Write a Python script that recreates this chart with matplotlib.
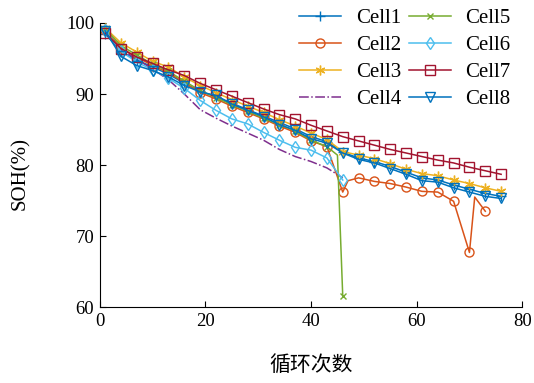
import numpy as np
import matplotlib
matplotlib.use("Agg")
import matplotlib.pyplot as plt

plt.rcParams['font.family'] = ['Liberation Serif', 'DejaVu Serif']

# --- data (cycle number vs SOH %) ---
cyc = [1, 4, 7, 10, 13, 16, 19, 22, 25, 28, 31, 34, 37, 40, 43, 46,
       49, 52, 55, 58, 61, 64, 67, 70, 73, 76]

cell1 = [98.5, 96.0, 94.8, 93.8, 92.8, 91.5, 90.4, 89.6, 88.7, 87.8, 86.9, 86.0, 85.1,
         84.0, 83.3, 81.8, 81.0, 80.5, 79.8, 79.0, 78.2, 77.9, 77.2, 76.6, 76.0, 75.6]
cell3 = [99.3, 97.2, 95.9, 94.6, 93.8, 92.4, 91.2, 90.2, 89.2, 88.3, 87.4, 86.4, 85.5,
         84.5, 83.6, 81.9, 81.4, 80.9, 80.2, 79.4, 78.8, 78.5, 77.9, 77.4, 76.8, 76.3]
cell7 = [98.6, 96.4, 95.2, 94.3, 93.4, 92.6, 91.5, 90.6, 89.7, 88.8, 87.9, 87.1, 86.5,
         85.6, 84.8, 84.0, 83.4, 82.8, 82.2, 81.7, 81.2, 80.7, 80.3, 79.7, 79.2, 78.7]
cell8 = [98.9, 95.3, 94.0, 93.3, 92.4, 91.2, 90.3, 89.8, 88.6, 87.7, 86.8, 85.7, 84.9,
         83.7, 83.1, 81.7, 80.8, 80.3, 79.5, 78.7, 77.8, 77.6, 76.8, 76.2, 75.6, 75.3]

cyc2 = [1, 4, 7, 10, 13, 16, 19, 22, 25, 28, 31, 34, 37, 40, 43, 46, 47,
        49, 52, 55, 58, 61, 64, 67, 70, 71, 73]
cell2 = [99.0, 96.5, 95.2, 94.0, 93.0, 91.6, 90.2, 89.3, 88.3, 87.4, 86.5, 85.5, 84.6,
         83.4, 82.6, 76.2, 77.8, 78.2, 77.7, 77.4, 76.9, 76.3, 76.2, 74.9, 67.7, 75.5, 73.5]
cell2_marks = [0, 1, 2, 3, 4, 5, 6, 7, 8, 9, 10, 11, 12, 13, 14, 15,
               17, 18, 19, 20, 21, 22, 23, 24, 26]

cyc4 = [1, 4, 7, 10, 13, 16, 19, 22, 25, 28, 31, 34, 37, 40, 43, 46]
cell4 = [98.8, 96.3, 94.9, 93.5, 92.0, 90.0, 87.8, 86.6, 85.5, 84.5, 83.5, 82.2, 81.2,
         80.5, 79.6, 78.2]

cyc5 = [1, 4, 7, 10, 13, 16, 19, 22, 25, 28, 31, 34, 37, 40, 43, 45, 46]
cell5 = [99.2, 96.8, 95.5, 94.2, 93.2, 91.8, 90.5, 89.5, 88.5, 87.6, 86.6, 85.7, 84.8,
         83.5, 82.6, 81.4, 61.6]
cell5_marks = [0, 1, 2, 3, 4, 5, 6, 7, 8, 9, 10, 11, 12, 13, 14, 16]

cyc6 = [1, 4, 7, 10, 13, 16, 19, 22, 25, 28, 31, 34, 37, 40, 43, 46]
cell6 = [99.0, 96.0, 94.5, 93.4, 92.2, 90.8, 89.1, 87.7, 86.5, 85.8, 84.6, 83.5, 82.5,
         82.1, 81.0, 77.9]

colors = ['#0072BD', '#D95319', '#EDB120', '#7E2F8E',
          '#77AC30', '#4DBEEE', '#A2142F', '#0072BD']

fig = plt.figure(figsize=(5.34, 3.83), dpi=100)
ax = fig.add_axes([0.187, 0.198, 0.791, 0.742])

lw = 1.1
ms = 6.5
ax.plot(cyc, cell1, color=colors[0], lw=lw, marker='+', ms=7, label='Cell1')
ax.plot(cyc2, cell2, color=colors[1], lw=lw, marker='o', ms=ms, mfc='none',
        markevery=cell2_marks, label='Cell2')
ax.plot(cyc, cell3, color=colors[2], lw=lw, marker=(6, 2, 0), ms=7, label='Cell3')
ax.plot(cyc4, cell4, color=colors[3], lw=lw, ls='-.', label='Cell4')
ax.plot(cyc5, cell5, color=colors[4], lw=lw, marker='x', ms=5,
        markevery=cell5_marks, label='Cell5')
ax.plot(cyc6, cell6, color=colors[5], lw=lw, marker='d', ms=ms, mfc='none', label='Cell6')
ax.plot(cyc, cell7, color=colors[6], lw=lw, marker='s', ms=ms, mfc='none', label='Cell7')
ax.plot(cyc, cell8, color=colors[7], lw=lw, marker='v', ms=ms, mfc='none', label='Cell8')

ax.set_xlim(0, 80)
ax.set_ylim(60, 100)
ax.set_xticks([0, 20, 40, 60, 80])
ax.set_yticks([60, 70, 80, 90, 100])
ax.spines['top'].set_visible(False)
ax.spines['right'].set_visible(False)
ax.tick_params(direction='in', length=4, labelsize=13.5, pad=4)

ax.set_ylabel('SOH(%)', fontsize=15)
ax.yaxis.set_label_coords(-0.165, 0.47)
ax.set_xlabel('循环次数', fontsize=15, family=['Noto Sans CJK SC', 'DejaVu Sans'])
ax.xaxis.set_label_coords(0.5, -0.165)

fig.legend(loc='upper right', bbox_to_anchor=(0.972, 1.0), ncol=2, frameon=False,
           fontsize=15, handlelength=2.0, handletextpad=0.7, columnspacing=0.4,
           labelspacing=0.36, borderaxespad=0)

fig.savefig('out.png', dpi=100)
